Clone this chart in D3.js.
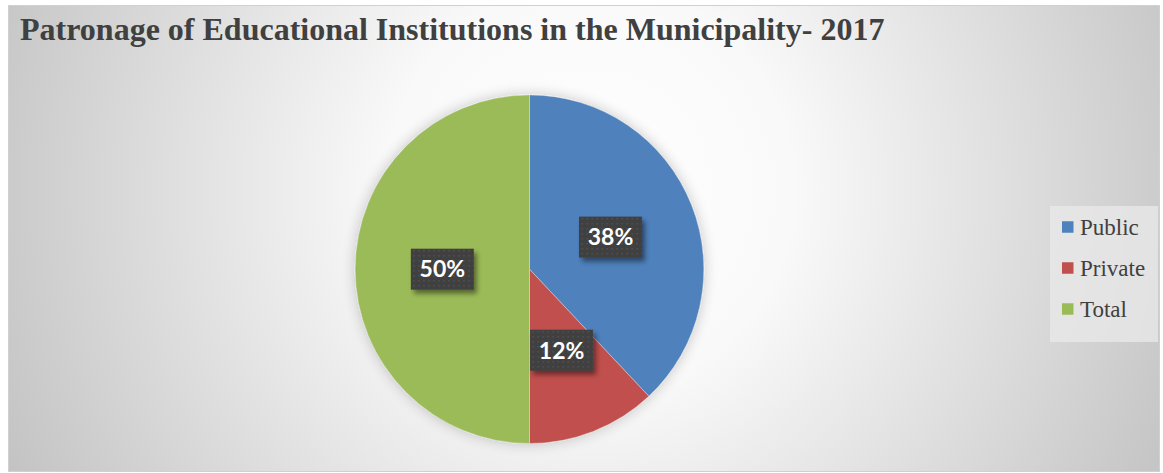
<!DOCTYPE html>
<html>
<head>
<meta charset="utf-8">
<script src="https://cdn.jsdelivr.net/npm/d3@7"></script>
<style>
  html, body { margin: 0; padding: 0; background: #ffffff; }
  svg { display: block; }
</style>
</head>
<body>
<svg id="chart" width="1163" height="473"></svg>
<script>
// Patronage shares, 2017
const categories = ["Public", "Private", "Total"];
const values = [38, 12, 50];
const colors = ["#4F81BD", "#C0504D", "#9BBB59"];
const title = "Patronage of Educational Institutions in the Municipality- 2017";

const svg = d3.select("#chart");
const frame = { x: 8.5, y: 5.5, w: 1151, h: 466 };

const defs = svg.append("defs");

// radial background fill
const bg = defs.append("radialGradient")
  .attr("id", "bgGrad")
  .attr("gradientUnits", "userSpaceOnUse")
  .attr("cx", 590).attr("cy", 190).attr("r", 680);
bg.append("stop").attr("offset", "0%").attr("stop-color", "#ffffff");
bg.append("stop").attr("offset", "30%").attr("stop-color", "#f9f9f9");
bg.append("stop").attr("offset", "100%").attr("stop-color", "#bfbfbf");

// soft glow around the pie
const glow = defs.append("filter").attr("id", "pieGlow")
  .attr("x", "-20%").attr("y", "-20%").attr("width", "140%").attr("height", "140%");
glow.append("feGaussianBlur").attr("in", "SourceAlpha").attr("stdDeviation", 7).attr("result", "b");
glow.append("feComponentTransfer").attr("in", "b").attr("result", "bb")
  .append("feFuncA").attr("type", "linear").attr("slope", 0.22);
const gm = glow.append("feMerge");
gm.append("feMergeNode").attr("in", "bb");
gm.append("feMergeNode").attr("in", "SourceGraphic");

// label box shadow
const lshadow = defs.append("filter").attr("id", "lblShadow")
  .attr("x", "-30%").attr("y", "-30%").attr("width", "160%").attr("height", "160%");
lshadow.append("feGaussianBlur").attr("in", "SourceAlpha").attr("stdDeviation", 2.5).attr("result", "b");
lshadow.append("feOffset").attr("in", "b").attr("dx", 3).attr("dy", 4).attr("result", "o");
lshadow.append("feComponentTransfer").attr("in", "o").attr("result", "oo")
  .append("feFuncA").attr("type", "linear").attr("slope", 0.45);
const lm = lshadow.append("feMerge");
lm.append("feMergeNode").attr("in", "oo");
lm.append("feMergeNode").attr("in", "SourceGraphic");

// dotted texture for the label boxes
const pat = defs.append("pattern").attr("id", "dots")
  .attr("patternUnits", "userSpaceOnUse").attr("width", 5).attr("height", 5);
pat.append("rect").attr("width", 5).attr("height", 5).attr("fill", "#3f3f3f");
pat.append("rect").attr("x", 1).attr("y", 1).attr("width", 1.3).attr("height", 1.3).attr("fill", "#5a5a5a");

// chart frame
svg.append("rect")
  .attr("x", frame.x).attr("y", frame.y)
  .attr("width", frame.w).attr("height", frame.h)
  .attr("fill", "url(#bgGrad)")
  .attr("stroke", "#d0d0d0").attr("stroke-width", 1);

// title
svg.append("text")
  .attr("x", 20).attr("y", 39.5)
  .attr("font-family", "'Liberation Serif', 'Times New Roman', serif")
  .attr("font-weight", "bold")
  .attr("font-size", 32)
  .attr("fill", "#404040")
  .text(title);

// pie
const cx = 529.5, cy = 269.2, R = 174.3;
const data = categories.map((c, i) => ({ name: c, value: values[i], color: colors[i] }));
const pie = d3.pie().value(d => d.value).sort(null);
const arc = d3.arc().innerRadius(0).outerRadius(R);
const arcs = pie(data);

const pg = svg.append("g").attr("transform", `translate(${cx},${cy})`);
pg.append("g").attr("filter", "url(#pieGlow)")
  .selectAll("path").data(arcs).join("path")
  .attr("d", arc)
  .attr("fill", d => d.data.color)
  .attr("stroke", "#e8e8e8").attr("stroke-width", 0.4);

// percentage labels
const total = d3.sum(values);
const bw = 63, bh = 41;
const lg = pg.append("g").selectAll("g").data(arcs).join("g")
  .attr("transform", d => { const [x, y] = arc.centroid(d); return `translate(${x},${y})`; });
lg.append("rect")
  .attr("x", -bw / 2).attr("y", -bh / 2).attr("width", bw).attr("height", bh)
  .attr("fill", "url(#dots)")
  .attr("filter", "url(#lblShadow)");
lg.append("text")
  .attr("text-anchor", "middle").attr("dy", "0.36em")
  .attr("font-family", "Lato, 'Open Sans', sans-serif")
  .attr("font-weight", "bold").attr("font-size", 23)
  .attr("fill", "#ffffff")
  .text(d => Math.round(d.data.value / total * 100) + "%");

// legend
const leg = svg.append("g");
leg.append("rect")
  .attr("x", 1050).attr("y", 206).attr("width", 108).attr("height", 136)
  .attr("fill", "#e9e9e9").attr("opacity", 0.75);
const items = leg.selectAll("g.item").data(data).join("g").attr("class", "item")
  .attr("transform", (d, i) => `translate(1062,${227 + i * 41})`);
items.append("rect")
  .attr("x", 0).attr("y", -5.75).attr("width", 11.5).attr("height", 11.5)
  .attr("fill", d => d.color);
items.append("text")
  .attr("x", 18).attr("y", 8)
  .attr("font-family", "'Liberation Serif', 'Times New Roman', serif")
  .attr("font-size", 23)
  .attr("fill", "#404040")
  .text(d => d.name);
</script>
</body>
</html>
